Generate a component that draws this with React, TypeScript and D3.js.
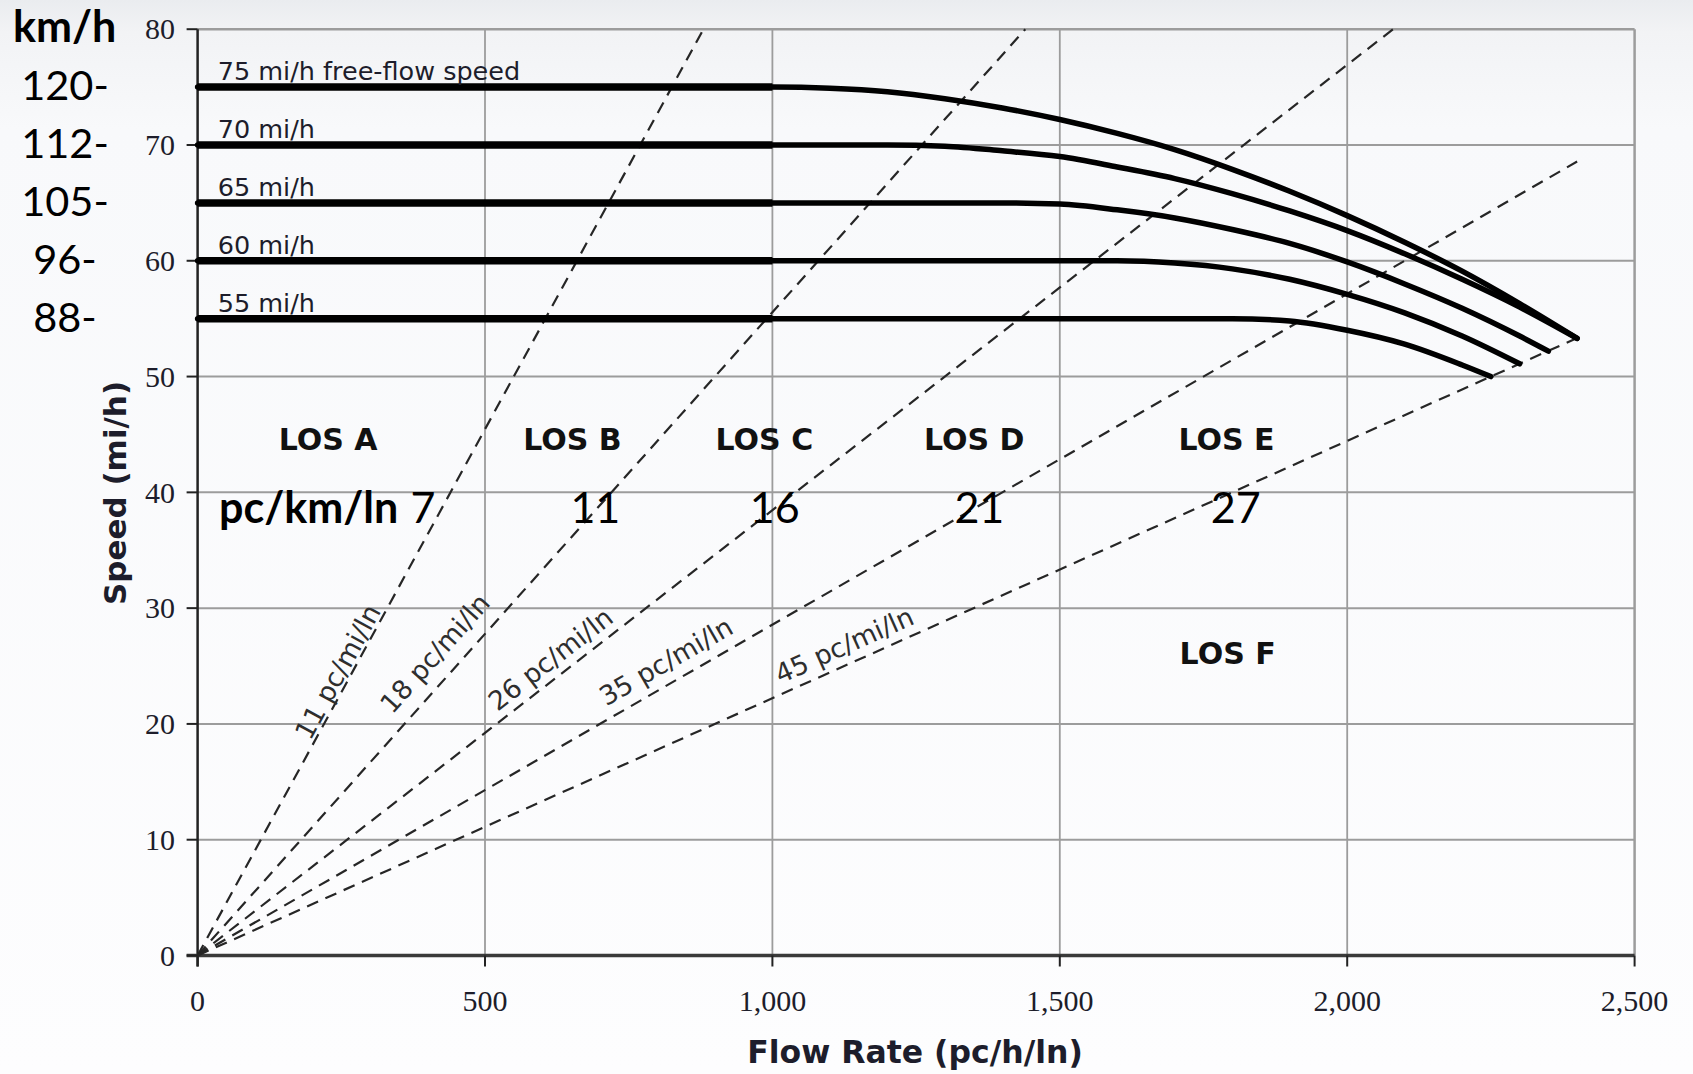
import React from 'react';
import * as d3 from 'd3';

// ---------- data ----------
const flowTicks = [0, 500, 1000, 1500, 2000, 2500];
const speedTicks = [0, 10, 20, 30, 40, 50, 60, 70, 80];

const ffs75 = [[0, 75], [1000, 75], [1100, 74.9], [1200, 74.6], [1300, 74.0], [1400, 73.2], [1500, 72.2], [1600, 71.0], [1700, 69.6], [1800, 67.9], [1900, 66.0], [2000, 63.9], [2100, 61.6], [2200, 59.1], [2300, 56.3], [2400, 53.3]];
const ffs70 = [[0, 70], [1000, 70], [1200, 70], [1300, 69.9], [1400, 69.5], [1500, 69.0], [1600, 68.1], [1700, 67.1], [1800, 65.8], [1900, 64.3], [2000, 62.6], [2100, 60.6], [2200, 58.4], [2300, 56.0], [2400, 53.3]];
const ffs65 = [[0, 65], [1000, 65], [1400, 65], [1500, 64.9], [1600, 64.4], [1700, 63.7], [1800, 62.7], [1900, 61.5], [2000, 59.9], [2100, 58.0], [2200, 55.9], [2300, 53.5], [2350, 52.2]];
const ffs60 = [[0, 60], [1000, 60], [1600, 60], [1700, 59.8], [1800, 59.3], [1900, 58.4], [2000, 57.1], [2100, 55.5], [2200, 53.5], [2300, 51.1]];
const ffs55 = [[0, 55], [1000, 55], [1800, 55], [1900, 54.8], [2000, 54.0], [2100, 52.8], [2200, 51.0], [2250, 50.0]];
const curves = [ffs75, ffs70, ffs65, ffs60, ffs55];
const curveLabels = ['75 mi/h free-flow speed', '70 mi/h', '65 mi/h', '60 mi/h', '55 mi/h'];

// density lines (pc/mi/ln) and the flow where each one stops
const densities = [11, 18, 26, 35, 45];
const densityEnd = [880, 1440, 2080, 2400, 2400];
const densityLabelAt = [[244, 24.5], [413, 26.1], [614, 25.6], [815, 25.4], [1125, 26.8]];

const losNames = ['LOS A', 'LOS B', 'LOS C', 'LOS D', 'LOS E', 'LOS F'];
const losAt = [[227, 44.6], [652, 44.6], [986, 44.6], [1351, 44.6], [1790, 44.6], [1792, 26.1]];

// metric overlay
const kmhLabels = ['120-', '112-', '105-', '96-', '88-'];
const kmhSpeeds = [75, 70, 65, 60, 55];
const pcKm = ['7', '11', '16', '21', '27'];
const pcKmFlow = [392, 692, 1004, 1360, 1806];

const W = 1693;
const H = 1074;

export default function App() {
  const x = d3.scaleLinear().domain([0, 2500]).range([197.6, 1634.6]);
  const y = d3.scaleLinear().domain([0, 80]).range([955.5, 29.2]);
  const line = d3.line<number[]>().x(d => x(d[0])).y(d => y(d[1])).curve(d3.curveMonotoneX);

  const x0 = x(0), x1 = x(2500), yTop = y(80), yBot = y(0);
  const ink = '#1d1d2b';
  const grid = '#9c9c9c';

  return (
    <svg width={W} height={H} style={{ position: 'absolute', left: 0, top: 0, display: 'block' }}>
      <defs>
        <linearGradient id="bg" x1="0" y1="0" x2="0" y2="1">
          <stop offset="0" stopColor="#eaecef" />
          <stop offset="0.03" stopColor="#f2f3f5" />
          <stop offset="0.12" stopColor="#f8f9fb" />
          <stop offset="1" stopColor="#fdfdfe" />
        </linearGradient>
      </defs>
      <rect width={W} height={H} fill="url(#bg)" />

      {/* grid */}
      {speedTicks.slice(1).map(t => (
        <line key={'h' + t} x1={x0} x2={x1} y1={y(t)} y2={y(t)} stroke={grid} strokeWidth={t === 80 ? 2.5 : 2} />
      ))}
      {flowTicks.slice(1).map(t => (
        <line key={'v' + t} x1={x(t)} x2={x(t)} y1={yTop} y2={yBot} stroke={grid} strokeWidth={t === 2500 ? 2.5 : 1.8} />
      ))}

      {/* axes */}
      <line x1={x0} x2={x0} y1={yTop} y2={yBot + 11} stroke="#222" strokeWidth={2.5} />
      <line x1={x0 - 11} x2={x1} y1={yBot} y2={yBot} stroke="#3a3a3a" strokeWidth={3.5} />
      {speedTicks.map(t => (
        <line key={'lt' + t} x1={x0 - 11} x2={x0} y1={y(t)} y2={y(t)} stroke="#222" strokeWidth={2} />
      ))}
      {flowTicks.map(t => (
        <line key={'bt' + t} x1={x(t)} x2={x(t)} y1={yBot} y2={yBot + 11} stroke="#222" strokeWidth={2} />
      ))}
      {speedTicks.map(t => (
        <text key={'yl' + t} x={175} y={y(t)} dy="0.34em" textAnchor="end" fontFamily="Liberation Serif" fontSize={30} fill={ink}>{t}</text>
      ))}
      {flowTicks.map(t => (
        <text key={'xl' + t} x={x(t)} y={1011} textAnchor="middle" fontFamily="Liberation Serif" fontSize={30} fill={ink}>{d3.format(',')(t)}</text>
      ))}
      <text transform={`translate(126,493) rotate(-90)`} textAnchor="middle" fontFamily="DejaVu Sans" fontWeight="bold" fontSize={31} fill={ink}>Speed (mi/h)</text>
      <text x={915} y={1063} textAnchor="middle" fontFamily="DejaVu Sans" fontWeight="bold" fontSize={31.5} fill={ink}>Flow Rate (pc/h/ln)</text>

      {/* density lines */}
      {densities.map((k, i) => (
        <path key={'d' + k} d={d3.line<number>().x(f => x(f)).y(f => y(f / k))([0, densityEnd[i]]) || ''}
          fill="none" stroke="#262626" strokeWidth={2.2} strokeDasharray="12 8" />
      ))}
      {densities.map((k, i) => {
        const ang = -Math.atan2(y(0) - y(1000 / k), x(1000) - x(0)) * 180 / Math.PI;
        const cx = x(densityLabelAt[i][0]);
        const cy = y(densityLabelAt[i][1]);
        return (
          <text key={'dl' + k} transform={`translate(${cx},${cy}) rotate(${ang})`} textAnchor="middle" dy="0.35em"
            fontFamily="DejaVu Sans" fontSize={26.5} fill="#2e2e2e">{k} pc/mi/ln</text>
        );
      })}

      {/* speed-flow curves */}
      {curves.map((c, i) => (
        <g key={'c' + i}>
          <path d={line(c) || ''} fill="none" stroke="#000" strokeWidth={5.5} strokeLinecap="round" />
          <path d={line(c.filter(p => p[0] <= 1000)) || ''} fill="none" stroke="#000" strokeWidth={7.5} />
          <text x={x(35)} y={y(c[0][1]) - 7} fontFamily="DejaVu Sans" fontSize={25.5} fill={ink}>{curveLabels[i]}</text>
        </g>
      ))}

      {/* LOS labels */}
      {losNames.map((n, i) => (
        <text key={n} x={x(losAt[i][0])} y={y(losAt[i][1])} dy="0.36em" textAnchor="middle" fontFamily="DejaVu Sans" fontWeight="bold" fontSize={30} fill="#111">{n}</text>
      ))}

      {/* metric overlay */}
      <text x={13} y={42} fontFamily="Lato" fontWeight="bold" fontSize={43} fill="#000">km/h</text>
      {kmhLabels.map((l, i) => (
        <text key={l} x={65} y={y(kmhSpeeds[i]) + 13} textAnchor="middle" fontFamily="Lato" fontSize={41.5} fill="#000">{l}</text>
      ))}
      <text x={219} y={523} fontFamily="Lato" fontWeight="bold" fontSize={43} fill="#000">pc/km/ln</text>
      {pcKm.map((v, i) => (
        <text key={'k' + v} x={x(pcKmFlow[i])} y={523} textAnchor="middle" fontFamily="Lato" fontSize={43} fill="#000">{v}</text>
      ))}
    </svg>
  );
}
